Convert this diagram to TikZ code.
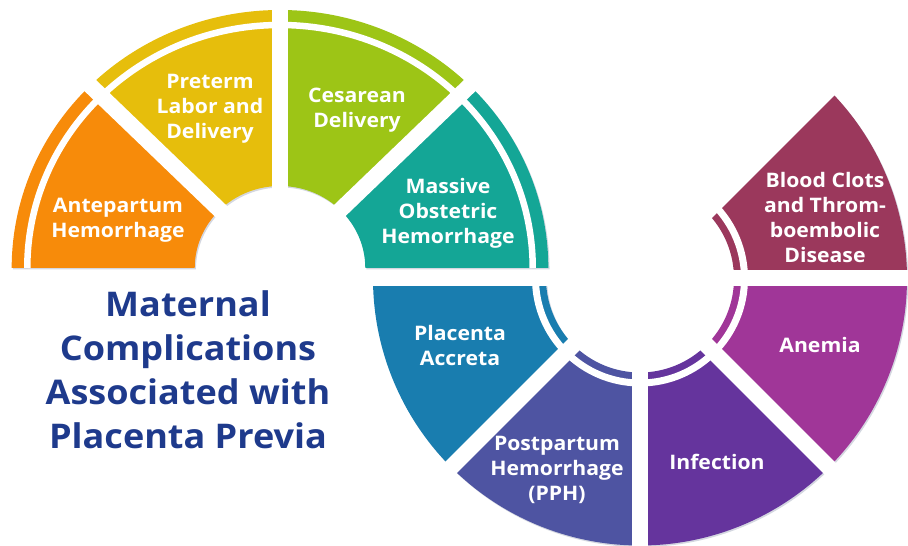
\documentclass[tikz,border=0pt]{standalone}
\usepackage{fontspec}
\setmainfont{Open Sans}[FakeStretch=1.06]
\usetikzlibrary{shadows}

\definecolor{antepartum}{RGB}{247,139,10}
\definecolor{preterm}{RGB}{230,190,12}
\definecolor{cesarean}{RGB}{157,197,22}
\definecolor{massive}{RGB}{20,166,150}
\definecolor{accreta}{RGB}{25,125,175}
\definecolor{pph}{RGB}{78,84,162}
\definecolor{infection}{RGB}{101,52,157}
\definecolor{anemia}{RGB}{160,54,152}
\definecolor{clots}{RGB}{155,56,92}
\definecolor{titleblue}{RGB}{30,58,140}

\tikzset{
  seg/.style={fill=#1, drop shadow={shadow xshift=1.2pt, shadow yshift=-1.5pt, opacity=.18, fill=titleblue!60!black}},
  segcut/.style={white, line width=16pt},
  stripe/.style={white, line width=6.5pt},
  seglabel/.style={inner sep=0pt, align=center, text=white, font=\bfseries\fontsize{20}{25}\selectfont},
}

\begin{document}
\begin{tikzpicture}[x=1pt, y=1pt]
\useasboundingbox (0,0) rectangle (908,546);
% upper half ring
\begin{scope}[shift={(280,278)}, xscale=1.04]
\fill[seg=antepartum] (180:258) arc[start angle=180, end angle=135, radius=258] -- (135:82) arc[start angle=135, end angle=180, radius=82] -- cycle;
\fill[seg=preterm] (135:258) arc[start angle=135, end angle=90, radius=258] -- (90:82) arc[start angle=90, end angle=135, radius=82] -- cycle;
\fill[seg=cesarean] (90:258) arc[start angle=90, end angle=45, radius=258] -- (45:82) arc[start angle=45, end angle=90, radius=82] -- cycle;
\fill[seg=massive] (45:258) arc[start angle=45, end angle=0, radius=258] -- (0:82) arc[start angle=0, end angle=45, radius=82] -- cycle;
\draw[stripe] (180:243) arc[start angle=180, end angle=0, radius=243];
\foreach \a in {45,90,135} \draw[segcut] (0,0) -- (\a:270);
\end{scope}
% lower ring
\begin{scope}[shift={(640,267.5)}]
\fill[seg=accreta] (180:267) arc[start angle=180, end angle=225, radius=267] -- (225:94) arc[start angle=225, end angle=180, radius=94] -- cycle;
\fill[seg=pph] (225:267) arc[start angle=225, end angle=270, radius=267] -- (270:94) arc[start angle=270, end angle=225, radius=94] -- cycle;
\fill[seg=infection] (270:267) arc[start angle=270, end angle=315, radius=267] -- (315:94) arc[start angle=315, end angle=270, radius=94] -- cycle;
\fill[seg=anemia] (315:267) arc[start angle=315, end angle=360, radius=267] -- (0:94) arc[start angle=360, end angle=315, radius=94] -- cycle;
\fill[seg=clots] (0:267) arc[start angle=0, end angle=45, radius=267] -- (45:94) arc[start angle=45, end angle=0, radius=94] -- cycle;
\draw[stripe, line width=7pt] (180:104.5) arc[start angle=180, end angle=405, radius=104.5];
\draw[segcut] (180:280) -- (0:280);
\foreach \a in {45,225,270,315} \draw[segcut] (0,0) -- (\a:280);
\end{scope}
\node (ante) [seglabel] at (118,326) {Antepartum\\Hemorrhage};
\node (preterm) [seglabel] at (210,437) {Preterm\\Labor and\\Delivery};
\node (cesarean) [seglabel] at (357,436) {Cesarean\\Delivery};
\node (massive) [seglabel] at (448,333) {Massive\\Obstetric\\Hemorrhage};
\node (accreta) [seglabel] at (460,200) {Placenta\\Accreta};
\node (pph) [seglabel] at (557,76) {Postpartum\\Hemorrhage\\(PPH)};
\node (infection) [seglabel] at (717,84) {Infection};
\node (anemia) [seglabel] at (820,201) {Anemia};
\node (clots) [seglabel] at (825,328) {Blood Clots\\and Throm-\\boembolic\\Disease};
\node (title) [inner sep=0pt, align=center, text=titleblue, font=\bfseries\fontsize{34}{44}\selectfont] at (188,176) {Maternal\\Complications\\Associated with\\Placenta Previa};
\end{tikzpicture}
\end{document}
